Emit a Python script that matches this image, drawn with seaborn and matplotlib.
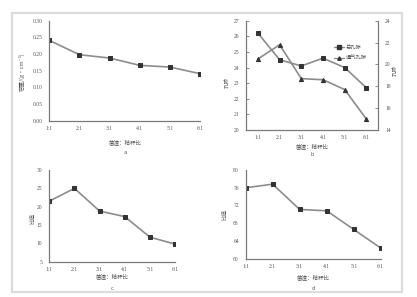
import numpy as np
import pandas as pd
import matplotlib
matplotlib.use("Agg")
import matplotlib.pyplot as plt
from matplotlib.patches import Rectangle
from matplotlib.lines import Line2D
import seaborn as sns

sns.set_theme(style="white")
plt.rcParams['font.family'] = ['Noto Sans CJK SC', 'DejaVu Sans']

ratios = ["1:1", "2:1", "3:1", "4:1", "5:1", "6:1"]
bulk_density = [0.241, 0.198, 0.188, 0.166, 0.161, 0.141]
porosity_total = [26.2, 24.5, 24.1, 24.6, 24.0, 22.7]
porosity_air = [20.5, 21.8, 18.7, 18.6, 17.7, 15.0]
panel_c_vals = [21.5, 25.0, 18.8, 17.3, 11.7, 9.8]
panel_d_vals = [76.0, 76.8, 71.1, 70.8, 66.6, 62.4]

xlabel = "菌渣：秸秆比"
legend_labels = ["总孔隙", "通气孔隙"]

W, H = 417, 297
fig = plt.figure(figsize=(W / 100, H / 100), dpi=100)
fig.patch.set_facecolor("white")
fig.add_artist(Rectangle((12 / W, 1 - 292 / H), 390 / W, 279 / H, transform=fig.transFigure,
                         fill=False, edgecolor="#dcdcdc", linewidth=1.6))

def rect(l, r, t, b):
    return [l / W, 1 - b / H, (r - l) / W, (b - t) / H]

LINE = "#8c8c8c"
MK = "#333333"
TICKFONT = dict(family="Liberation Serif", size=4.0, color="#555555")

def style(ax, ylim, yticks, yfmt, pad=0.0):
    ax.set_xlim(-pad, 5 + pad)
    ax.set_ylim(*ylim)
    ax.set_yticks(yticks)
    ax.set_yticklabels([yfmt.format(v) for v in yticks], fontdict=TICKFONT)
    ax.set_xticks(range(6))
    ax.set_xticklabels(ratios, fontdict=TICKFONT)
    for s in ["top", "right"]:
        ax.spines[s].set_visible(False)
    for s in ["left", "bottom"]:
        ax.spines[s].set_color("#7a7a7a")
        ax.spines[s].set_linewidth(0.9)
    ax.tick_params(direction="in", length=2, width=0.6, color="#7a7a7a")
    ax.tick_params(axis="y", pad=5)
    ax.tick_params(axis="x", pad=3.5)
    ax.set_xlabel("")
    ax.set_ylabel("")
    ax.set_facecolor("white")

def draw(ax, vals, marker="s"):
    df = pd.DataFrame({"r": ratios, "v": vals})
    sns.lineplot(data=df, x="r", y="v", ax=ax, color=LINE, linewidth=1.2,
                 marker=marker, markersize=3, markerfacecolor=MK, markeredgecolor=MK,
                 sort=False)

labfont = dict(size=4, color="#555555")

# panel a
ax1 = fig.add_axes(rect(49.3, 200, 20.7, 120.7))
draw(ax1, bulk_density)
style(ax1, (0, 0.30), [0, 0.05, 0.10, 0.15, 0.20, 0.25, 0.30], "{:.2f}")
fig.text(22 / W, 1 - 72 / H, "容重/(g·cm⁻³)", rotation=90, ha="center", va="center", **labfont)
fig.text(125 / W, 1 - 142 / H, xlabel, ha="center", va="center", **labfont)
fig.text(125 / W, 1 - 153 / H, "a", ha="center", va="center", **labfont)

# panel b
ax2 = fig.add_axes(rect(246, 378.3, 20.7, 130))
draw(ax2, porosity_total, "s")
style(ax2, (20, 27), list(range(20, 28)), "{:d}", pad=0.55)
ax2b = ax2.twinx()
df_air = pd.DataFrame({"r": ratios, "v": porosity_air})
sns.lineplot(data=df_air, x="r", y="v", ax=ax2b, color=LINE, linewidth=1.2,
             marker="^", markersize=3, markerfacecolor=MK, markeredgecolor=MK, sort=False)
ax2b.set_ylim(14, 24)
ax2b.set_xlim(-0.55, 5.55)
ax2b.set_yticks([14, 16, 18, 20, 22, 24])
ax2b.set_yticklabels(["14", "16", "18", "20", "22", "24"], fontdict=TICKFONT)
ax2b.set_ylabel("")
ax2b.spines["top"].set_visible(False)
ax2b.spines["left"].set_visible(False)
ax2b.spines["bottom"].set_visible(False)
ax2b.spines["right"].set_color("#7a7a7a")
ax2b.spines["right"].set_linewidth(0.9)
ax2b.tick_params(direction="in", length=2, width=0.6, color="#7a7a7a", pad=5)
handles = [Line2D([], [], color=LINE, lw=1.0, marker="s", ms=2.5, mfc=MK, mec=MK),
           Line2D([], [], color=LINE, lw=1.0, marker="^", ms=2.5, mfc=MK, mec=MK)]
ax2.legend(handles, legend_labels, loc="upper left", bbox_to_anchor=(0.63, 0.82),
           frameon=False, prop={"size": 3.8}, handlelength=1.8, handletextpad=0.4,
           labelspacing=1.0, labelcolor="#555555")
fig.text(227 / W, 1 - 83 / H, "孔隙", rotation=90, ha="center", va="center", **labfont)
fig.text(395 / W, 1 - 70 / H, "孔隙", rotation=90, ha="center", va="center", **labfont)
fig.text(312 / W, 1 - 146 / H, xlabel, ha="center", va="center", **labfont)
fig.text(312 / W, 1 - 155 / H, "b", ha="center", va="center", **labfont)

# panel c
ax3 = fig.add_axes(rect(49.3, 175, 170, 261.7))
draw(ax3, panel_c_vals)
style(ax3, (5, 30), [5, 10, 15, 20, 25, 30], "{:d}")
fig.text(33 / W, 1 - 219 / H, "比值", rotation=90, ha="center", va="center", **labfont)
fig.text(112 / W, 1 - 276 / H, xlabel, ha="center", va="center", **labfont)
fig.text(112 / W, 1 - 288 / H, "c", ha="center", va="center", **labfont)

# panel d
ax4 = fig.add_axes(rect(245.7, 380.7, 170, 258.7))
draw(ax4, panel_d_vals)
style(ax4, (60, 80), [60, 64, 68, 72, 76, 80], "{:d}")
fig.text(225 / W, 1 - 214 / H, "比值", rotation=90, ha="center", va="center", **labfont)
fig.text(313 / W, 1 - 277 / H, xlabel, ha="center", va="center", **labfont)
fig.text(313 / W, 1 - 288 / H, "d", ha="center", va="center", **labfont)

fig.savefig("out.png", dpi=100, facecolor="white")
